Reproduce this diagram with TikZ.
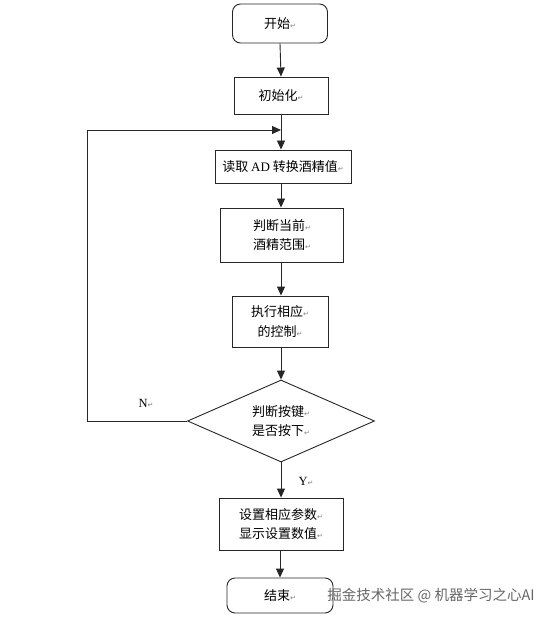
\documentclass[tikz,border=0pt]{standalone}
\usepackage{fontspec}
\setmainfont{Liberation Serif}
\newfontfamily\cjk{Noto Sans CJK SC}
\newfontfamily\symf{DejaVu Sans}
\usetikzlibrary{shapes.geometric,arrows.meta}
\newcommand\rmk{{\symf\fontsize{7}{7}\selectfont\color{gray}↵}}
\newcommand\lat[1]{{\rmfamily #1}}
\tikzset{
  box/.style={draw=black!85,line width=0.9pt,inner sep=0pt,align=center,
    font=\cjk\fontsize{13}{19.5}\selectfont},
  rbox/.style={box,rounded corners=8pt},
  dia/.style={box,diamond,aspect=2.28},
  arr/.style={draw=black!85,line width=0.9pt,-{Triangle[length=9pt,width=8pt]}},
  ln/.style={draw=black!85,line width=0.9pt},
  lbl/.style={font=\fontsize{12.5}{12.5}\selectfont,inner sep=0pt}
}
\begin{document}
\begin{tikzpicture}[x=1pt,y=-1pt]
\useasboundingbox (0,0) rectangle (554,620);
\node[rbox,minimum width=95,minimum height=39] (start) at (280,23.5) {开始\rmk};
\node[box,minimum width=94,minimum height=37] (init) at (281,95.5) {初始化\rmk};
\coordinate (j) at (281,130);
\node[box,minimum width=136,minimum height=33] (read) at (283,166.5) {读取 \lat{AD} 转换酒精值\rmk};
\node[box,minimum width=123,minimum height=54] (range) at (282,235) {判断当前\rmk\\酒精范围\rmk};
\node[box,minimum width=96,minimum height=51] (exec) at (280,321.5) {执行相应\rmk\\的控制\rmk};
\node[dia,minimum width=187,minimum height=82] (key) at (281,421) {判断按键\rmk\\是否按下\rmk};
\node[box,minimum width=124,minimum height=52] (set) at (281,524) {设置相应参数\rmk\\显示设置数值\rmk};
\node[rbox,minimum width=106,minimum height=35] (end) at (280,595.5) {结束\rmk};
\coordinate (lt) at (87,130);
\coordinate (lb) at (87,421);
\node[lbl] (n) at (146,403) {N\rmk};
\node[lbl] (y) at (306,481) {Y\rmk};
\node[inner sep=0pt,font=\cjk\fontsize{14.5}{14.5}\selectfont,text=black!60] (wm) at (431,596) {掘金技术社区 @ 机器学习之心AI};

\draw[arr] (start.south) -- (init.north);
\draw[ln] (init.south) -- (j);
\draw[arr] (j) -- (j |- read.north);
\draw[arr] (read.south -| j) -- (j |- range.north);
\draw[arr] (range.south -| j) -- (j |- exec.north);
\draw[arr] (exec.south -| j) -- (key.north);
\draw[arr] (key.south) -- (set.north);
\draw[arr] (set.south -| end) -- (end.north);
\draw[ln] (key.west) -- (lb) -- (lt);
\draw[arr] (lt) -- (j);
\end{tikzpicture}
\end{document}
